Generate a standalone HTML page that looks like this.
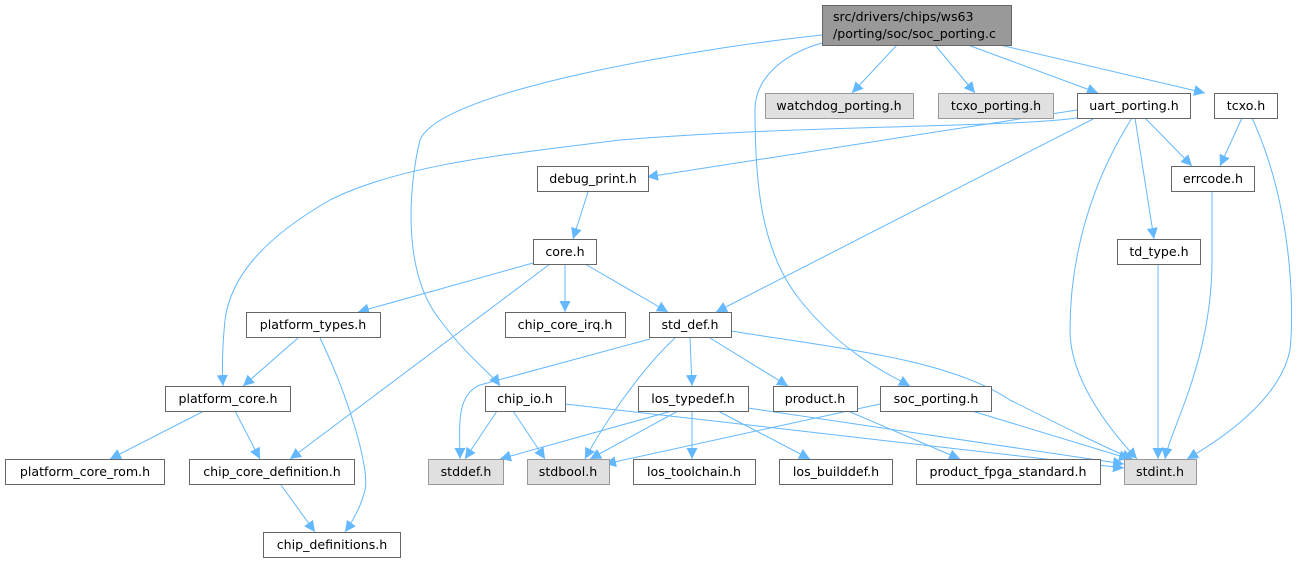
<!DOCTYPE html>
<html><head><meta charset="utf-8"><style>
body{margin:0;background:#fff;width:1297px;height:564px;overflow:hidden}
svg text{font-family:"DejaVu Sans","Liberation Sans",sans-serif;font-size:12.6px;fill:#000;text-anchor:middle}
</style></head><body>
<svg width="1297" height="564" viewBox="0 0 1297 564" xmlns="http://www.w3.org/2000/svg">
<defs><marker id="a" viewBox="0 0 10 10" refX="10" refY="5" markerWidth="11" markerHeight="11" markerUnits="userSpaceOnUse" orient="auto"><path d="M0,0L10,5L0,10z" fill="#63b8ff"/></marker></defs>
<g fill="none" stroke="#63b8ff" stroke-width="1" marker-end="url(#a)">
<path d="M897,45L852,93"/>
<path d="M935,45L975,93"/>
<path d="M968,45L1098,93"/>
<path d="M1000,45L1205,93"/>
<path d="M822,35C700,48 440,90 420,140C410,180 400,270 440,320C470,360 490,372 500,386"/>
<path d="M822,43C780,55 755,80 755,110C755,180 760,250 800,300C840,350 880,370 910,386"/>
<path d="M1077,110L647,177"/>
<path d="M1077,118C1000,128 800,125 620,140C500,155 400,165 330,200C260,240 230,280 225,320C222,350 222,370 223,386"/>
<path d="M1095,118L716,312"/>
<path d="M1132,118C1080,200 1070,280 1070,330C1070,380 1110,430 1137,459"/>
<path d="M1135,118L1154,239"/>
<path d="M1145,118L1192,166"/>
<path d="M1242,118L1220,166"/>
<path d="M1252,118C1290,200 1295,300 1290,350C1280,400 1220,440 1187,459"/>
<path d="M1212,192L1212,260C1212,360 1170,430 1165,459"/>
<path d="M1158,264L1158,459"/>
<path d="M588,192L573,239"/>
<path d="M533,263L358,312"/>
<path d="M565,264L565,312"/>
<path d="M585,264L668,312"/>
<path d="M550,264L290,459"/>
<path d="M298,338L243,386"/>
<path d="M320,338C350,400 370,470 365,490C360,510 350,525 345,532"/>
<path d="M204,411L110,459"/>
<path d="M235,411L260,459"/>
<path d="M281,485L315,532"/>
<path d="M650,339L480,385C455,395 460,430 460,459"/>
<path d="M675,338C640,370 600,430 585,459"/>
<path d="M690,338L692,386"/>
<path d="M710,338L788,386"/>
<path d="M731,331C850,350 950,360 1010,400C1060,425 1110,450 1133,459"/>
<path d="M497,411L465,459"/>
<path d="M513,411L545,459"/>
<path d="M565,404L1124,468"/>
<path d="M672,411L500,459"/>
<path d="M678,411L590,459"/>
<path d="M692,411L692,459"/>
<path d="M718,411L810,459"/>
<path d="M748,408L1124,464"/>
<path d="M848,411L960,459"/>
<path d="M880,404L605,464"/>
<path d="M972,411L1130,459"/>
</g>
<g stroke-width="1">
<rect x="822.5" y="5.5" width="189" height="40" fill="#999" stroke="#666"/>
<rect x="765.5" y="93.5" width="148" height="25" fill="#e0e0e0" stroke="#999"/>
<rect x="938.5" y="93.5" width="115" height="25" fill="#e0e0e0" stroke="#999"/>
<rect x="1077.5" y="93.5" width="113" height="25" fill="#fff" stroke="#666"/>
<rect x="1214.5" y="93.5" width="63" height="25" fill="#fff" stroke="#666"/>
<rect x="537.5" y="166.5" width="111" height="25" fill="#fff" stroke="#666"/>
<rect x="1171.5" y="166.5" width="83" height="25" fill="#fff" stroke="#666"/>
<rect x="533.5" y="239.5" width="63" height="25" fill="#fff" stroke="#666"/>
<rect x="1117.5" y="239.5" width="83" height="25" fill="#fff" stroke="#666"/>
<rect x="246.5" y="312.5" width="134" height="25" fill="#fff" stroke="#666"/>
<rect x="505.5" y="312.5" width="120" height="25" fill="#fff" stroke="#666"/>
<rect x="649.5" y="312.5" width="82" height="25" fill="#fff" stroke="#666"/>
<rect x="165.5" y="386.5" width="125" height="25" fill="#fff" stroke="#666"/>
<rect x="485.5" y="386.5" width="80" height="25" fill="#fff" stroke="#666"/>
<rect x="638.5" y="386.5" width="110" height="25" fill="#fff" stroke="#666"/>
<rect x="773.5" y="386.5" width="84" height="25" fill="#fff" stroke="#666"/>
<rect x="880.5" y="386.5" width="111" height="25" fill="#fff" stroke="#666"/>
<rect x="5.5" y="459.5" width="159" height="25" fill="#fff" stroke="#666"/>
<rect x="189.5" y="459.5" width="165" height="25" fill="#fff" stroke="#666"/>
<rect x="428.5" y="459.5" width="75" height="25" fill="#e0e0e0" stroke="#999"/>
<rect x="527.5" y="459.5" width="82" height="25" fill="#e0e0e0" stroke="#999"/>
<rect x="633.5" y="459.5" width="122" height="25" fill="#fff" stroke="#666"/>
<rect x="779.5" y="459.5" width="113" height="25" fill="#fff" stroke="#666"/>
<rect x="916.5" y="459.5" width="184" height="25" fill="#fff" stroke="#666"/>
<rect x="1124.5" y="459.5" width="72" height="25" fill="#e0e0e0" stroke="#999"/>
<rect x="263.5" y="532.5" width="137" height="25" fill="#fff" stroke="#666"/>
</g>
<g>
<text x="833" y="21" style="text-anchor:start">src/drivers/chips/ws63</text>
<text x="833" y="38" style="text-anchor:start">/porting/soc/soc_porting.c</text>
<text x="839" y="110">watchdog_porting.h</text>
<text x="996" y="110">tcxo_porting.h</text>
<text x="1134" y="110">uart_porting.h</text>
<text x="1246" y="110">tcxo.h</text>
<text x="593" y="183">debug_print.h</text>
<text x="1213" y="183">errcode.h</text>
<text x="565" y="256">core.h</text>
<text x="1159" y="256">td_type.h</text>
<text x="313" y="329">platform_types.h</text>
<text x="565" y="329">chip_core_irq.h</text>
<text x="690" y="329">std_def.h</text>
<text x="228" y="403">platform_core.h</text>
<text x="525" y="403">chip_io.h</text>
<text x="693" y="403">los_typedef.h</text>
<text x="815" y="403">product.h</text>
<text x="936" y="403">soc_porting.h</text>
<text x="85" y="476">platform_core_rom.h</text>
<text x="272" y="476">chip_core_definition.h</text>
<text x="466" y="476">stddef.h</text>
<text x="568" y="476">stdbool.h</text>
<text x="694" y="476">los_toolchain.h</text>
<text x="836" y="476">los_builddef.h</text>
<text x="1008" y="476">product_fpga_standard.h</text>
<text x="1160" y="476">stdint.h</text>
<text x="332" y="549">chip_definitions.h</text>
</g>
</svg>
</body></html>
